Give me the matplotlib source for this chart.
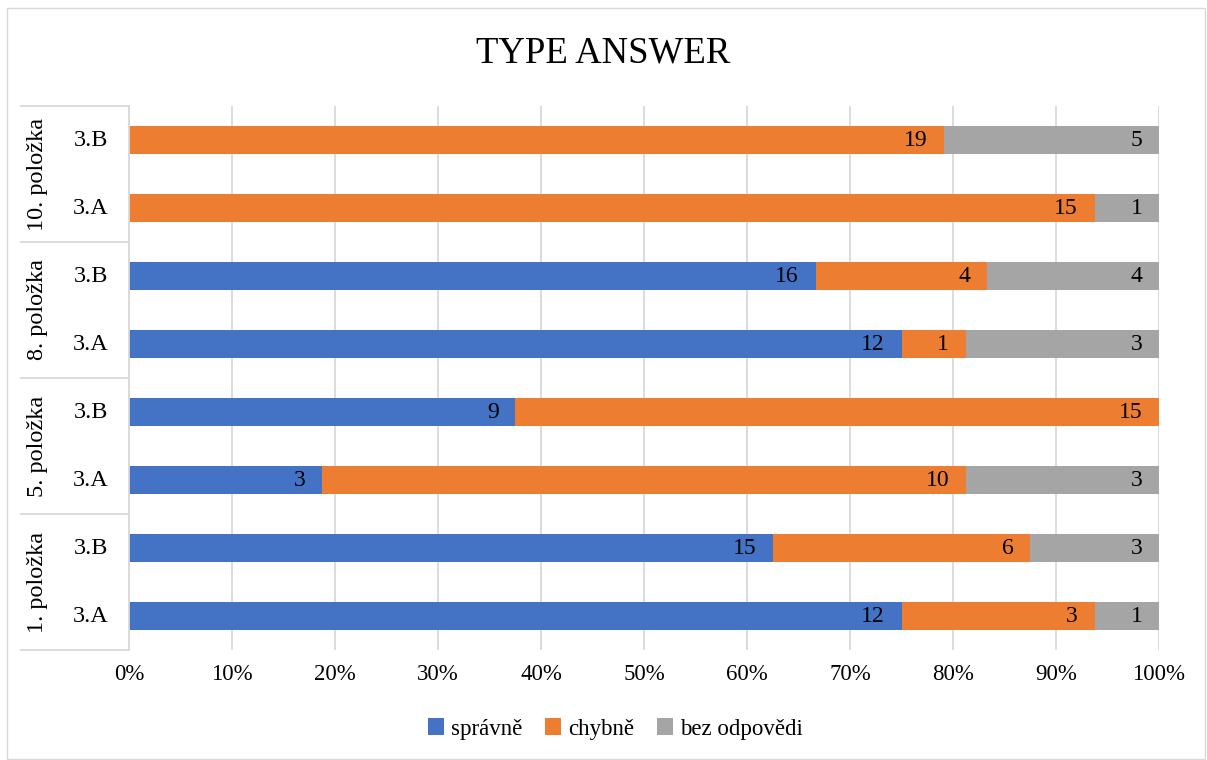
import matplotlib.pyplot as plt
from matplotlib.patches import Rectangle
from matplotlib.ticker import PercentFormatter
import numpy as np

plt.rcParams['font.family'] = ['Liberation Serif', 'DejaVu Serif']

groups = ['1. položka', '5. položka', '8. položka', '10. položka']
classes = ['3.A', '3.B']
series = ['správně', 'chybně', 'bez odpovědi']
colors = ['#4472C4', '#ED7D31', '#A5A5A5']

# bottom to top: 1.A, 1.B, 5.A, 5.B, 8.A, 8.B, 10.A, 10.B
spravne = [12, 15, 3, 9, 12, 16, 0, 0]
chybne = [3, 6, 10, 15, 1, 4, 15, 19]
bez = [1, 3, 3, 0, 3, 4, 1, 5]

W, H = 1207, 760
fig = plt.figure(figsize=(W / 100, H / 100), dpi=100)
x0, x1, y0, y1 = 129, 1159, 106, 650
ax = fig.add_axes([x0 / W, 1 - y1 / H, (x1 - x0) / W, (y1 - y0) / H])

data = np.array([spravne, chybne, bez], dtype=float)
tot = data.sum(axis=0)
pct = data / tot
ypos = np.arange(len(tot))
left = np.zeros(len(tot))
for i, name in enumerate(series):
    ax.barh(ypos, pct[i], left=left, height=0.4, color=colors[i], label=name, zorder=2)
    for y, l, p, v in zip(ypos, left, pct[i], data[i]):
        if v > 0:
            ax.annotate('%d' % v, (l + p, y), xytext=(-12, 0), textcoords='offset points',
                        ha='right', va='center', fontsize=17, color='black', zorder=3)
    left += pct[i]

ax.set_xlim(0, 1)
ax.set_ylim(-0.5, len(tot) - 0.5)
ax.set_xticks(np.arange(0, 1.01, 0.1))
ax.xaxis.set_major_formatter(PercentFormatter(1.0, decimals=0))
ax.tick_params(axis='x', length=0, labelsize=16.5, pad=10)
ax.set_yticks([])
ax.grid(axis='x', color='#D9D9D9', linewidth=1.3, zorder=0)
for s in ['top', 'right', 'bottom']:
    ax.spines[s].set_visible(False)
ax.spines['left'].set_color('#D9D9D9')
ax.spines['left'].set_linewidth(1.3)

# two level category axis
trans = ax.get_yaxis_transform()
gx0 = (21 - x0) / (x1 - x0)
for k, y in enumerate(ypos):
    ax.text((91 - x0) / (x1 - x0), y, classes[k % 2], transform=trans,
            ha='center', va='center', fontsize=17.5)
for g, name in enumerate(groups):
    ax.text((38 - x0) / (x1 - x0), 2 * g + 0.5, name, transform=trans, rotation=90,
            ha='center', va='center', fontsize=17.5)
for b in np.arange(-0.5, len(tot), 2):
    ax.plot([gx0, 0], [b, b], transform=trans, color='#D9D9D9', linewidth=1.3,
            clip_on=False)

fig.text(0.5, 1 - 53 / H, 'TYPE ANSWER', ha='center', va='center', fontsize=26.5)
fig.legend(loc='center', bbox_to_anchor=(615 / W, 1 - 729 / H), ncol=3, frameon=False,
           fontsize=16.5, handlelength=0.7, handleheight=0.7, handletextpad=0.3,
           columnspacing=1.0)

fig.patches.append(Rectangle((7 / W, 1 / H), 1 - 9 / W, 1 - 9 / H,
                             transform=fig.transFigure, fill=False,
                             edgecolor='#D9D9D9', linewidth=1))

fig.savefig('out.png', dpi=100)
